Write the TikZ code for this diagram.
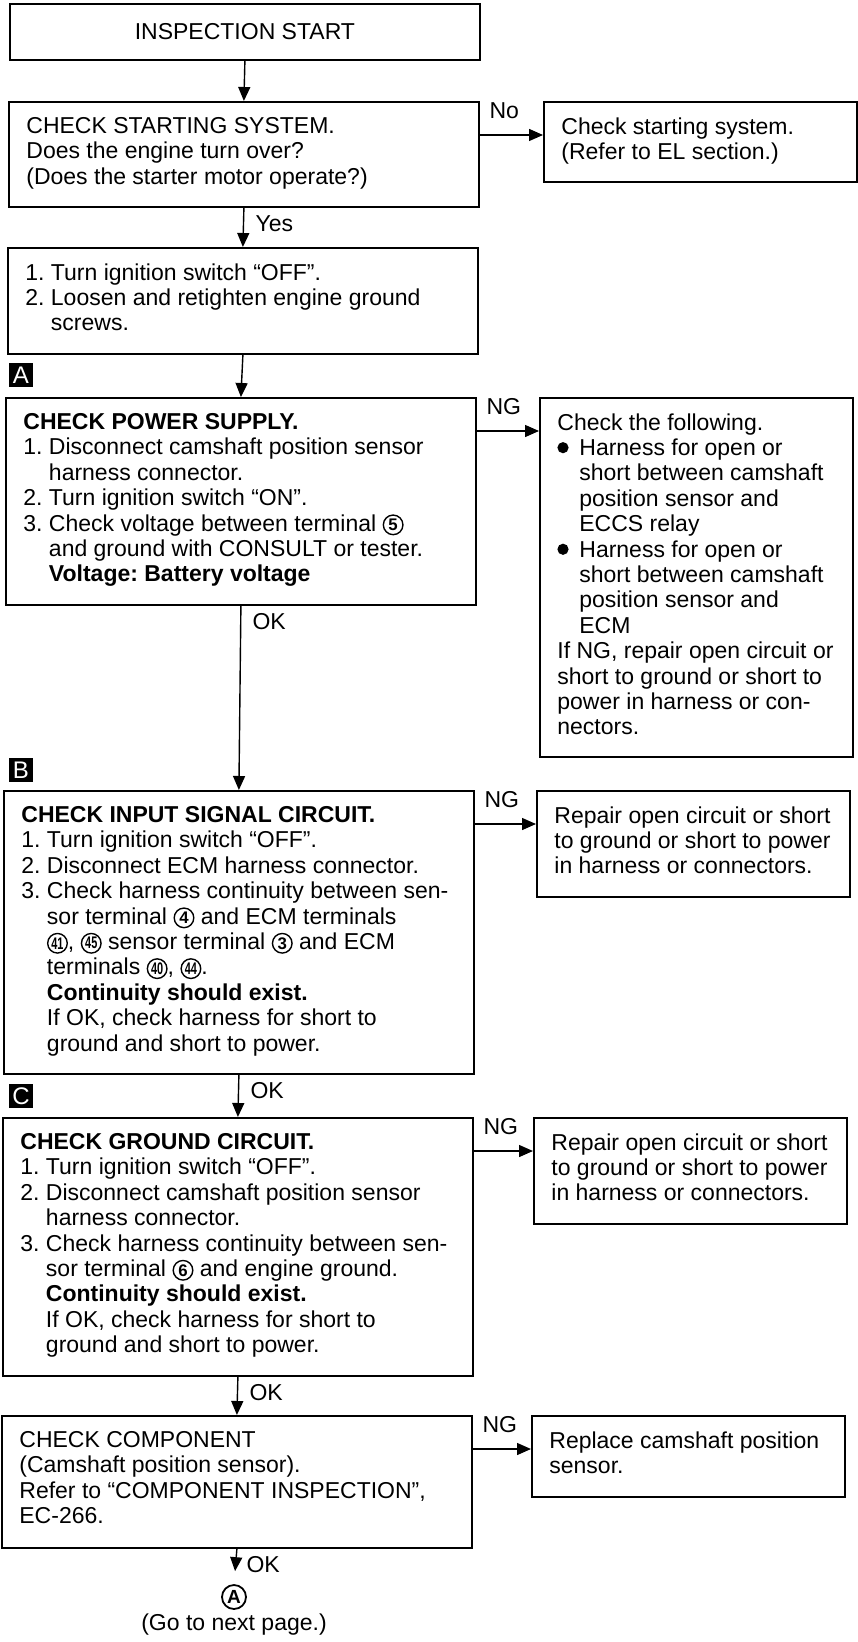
\documentclass[tikz,border=0pt]{standalone}
\usepackage{fontspec}
\setmainfont{Liberation Sans}
\usepackage{graphicx}
\usetikzlibrary{arrows.meta,positioning}
\frenchspacing

\newcommand\fs{\fontsize{11.5}{12.7}\selectfont}
\newcommand\ind{\hphantom{1. }}
\newcommand\cn[1]{\tikz[baseline=0pt,x=1pt,y=1pt]{\draw[line width=0.7pt] (4.9,3.1) circle[radius=4.9];
  \node[anchor=center,inner sep=0pt,xshift=0pt,yshift=0pt,font=\bfseries\fontsize{8.4}{8.4}\selectfont] (cnum) at (4.9,3.1) {#1};}}
\newcommand\cnn[1]{\cn{\scalebox{0.65}[1]{#1}}}
\newcommand\blt{\makebox[11pt][l]{\tikz[baseline=0pt,x=1pt,y=1pt]\fill (2.8,3.9) circle[radius=2.8];}}

\begin{document}
\begin{tikzpicture}[x=0.5pt,y=-0.5pt,
  box/.style={draw,line width=0.9pt,anchor=north west,inner sep=0pt},
  mainbox/.style={box,minimum width=235pt},
  sidebox/.style={box,minimum width=156.5pt},
  txt/.style={anchor=north west,align=left,inner sep=0pt,xshift=9pt,yshift=-8pt,font=\fs},
  lbl/.style={inner sep=0pt,font=\fs},
  arr/.style={-{Triangle[length=7pt,width=6pt]},line width=0.7pt},
  tag/.style={fill=black,text=white,minimum size=12pt,inner sep=0pt,font=\fontsize{12}{12}\selectfont}]
  \useasboundingbox (0,0) rectangle (857,1642);

  % Start and starting system
  \node[mainbox,minimum height=28pt,font=\fs] (start) at (9,3) {INSPECTION START};
  \node[mainbox,minimum height=52.5pt] (chk) at (8,101) {};
  \node[txt] (chkt) at (chk.north west) {CHECK STARTING SYSTEM.\\Does the engine turn over?\\(Does the starter motor operate?)};
  \node[sidebox,minimum height=40pt] (nostart) at (543,101) {};
  \node[txt] (nostartt) at (nostart.north west) {Check starting system.\\(Refer to EL section.)};
  \node[mainbox,minimum height=53pt] (scr) at (7,247) {};
  \node[txt] (scrt) at (scr.north west) {1. Turn ignition switch “OFF”.\\2. Loosen and retighten engine ground\\\ind screws.};

  % A: power supply
  \node[mainbox,minimum height=103.5pt] (pwr) at (5,397) {};
  \node[txt] (pwrt) at (pwr.north west) {\textbf{CHECK POWER SUPPLY.}\\
    1. Disconnect camshaft position sensor\\\ind harness connector.\\
    2. Turn ignition switch “ON”.\\
    3. Check voltage between terminal \cn{5}\\\ind and ground with CONSULT or tester.\\
    \ind\textbf{Voltage: Battery voltage}};
  \node[sidebox,minimum height=179.5pt] (ngpwr) at (539,397) {};
  \node[txt] (ngpwrt) at (ngpwr.north west) {Check the following.\\
    \blt Harness for open or\\\hspace*{11pt}short between camshaft\\\hspace*{11pt}position sensor and\\\hspace*{11pt}ECCS relay\\
    \blt Harness for open or\\\hspace*{11pt}short between camshaft\\\hspace*{11pt}position sensor and\\\hspace*{11pt}ECM\\
    If NG, repair open circuit or\\short to ground or short to\\power in harness or con-\\nectors.};

  % B: input signal circuit
  \node[mainbox,minimum height=141.5pt] (inp) at (3,790) {};
  \node[txt] (inpt) at (inp.north west) {\textbf{CHECK INPUT SIGNAL CIRCUIT.}\\
    1. Turn ignition switch “OFF”.\\
    2. Disconnect ECM harness connector.\\
    3. Check harness continuity between sen-\\
    \ind sor terminal \cn{4} and ECM terminals\\
    \ind\cnn{41}, \cnn{45} sensor terminal \cn{3} and ECM\\
    \ind terminals \cnn{40}, \cnn{44}.\\
    \ind\textbf{Continuity should exist.}\\
    \ind If OK, check harness for short to\\
    \ind ground and short to power.};
  \node[sidebox,minimum height=53pt] (nginp) at (536,790) {};
  \node[txt] (nginpt) at (nginp.north west) {Repair open circuit or short\\to ground or short to power\\in harness or connectors.};

  % C: ground circuit
  \node[mainbox,minimum height=129pt] (gnd) at (2,1117) {};
  \node[txt] (gndt) at (gnd.north west) {\textbf{CHECK GROUND CIRCUIT.}\\
    1. Turn ignition switch “OFF”.\\
    2. Disconnect camshaft position sensor\\\ind harness connector.\\
    3. Check harness continuity between sen-\\
    \ind sor terminal \cn{6} and engine ground.\\
    \ind\textbf{Continuity should exist.}\\
    \ind If OK, check harness for short to\\
    \ind ground and short to power.};
  \node[sidebox,minimum height=53pt] (nggnd) at (533,1117) {};
  \node[txt] (nggndt) at (nggnd.north west) {Repair open circuit or short\\to ground or short to power\\in harness or connectors.};

  % Component
  \node[mainbox,minimum height=66pt] (cmp) at (1,1415) {};
  \node[txt] (cmpt) at (cmp.north west) {CHECK COMPONENT\\(Camshaft position sensor).\\Refer to “COMPONENT INSPECTION”,\\EC-266.};
  \node[sidebox,minimum height=40.5pt] (ngcmp) at (531,1415) {};
  \node[txt] (ngcmpt) at (ngcmp.north west) {Replace camshaft position\\sensor.};

  \node[draw,circle,line width=0.9pt,minimum size=12pt,inner sep=0pt,font=\bfseries\fontsize{9.5}{9.5}\selectfont] (goA) at (234,1597) {A};
  \node[lbl] (nextpg) at (234,1625) {(Go to next page.)};

  % Section tags
  \foreach \n/\y in {A/375,B/770,C/1096}
    \node[tag] (tag\n) at (21,\y) {\n};

  % Downward flow
  \draw[arr] (start.south) -- (chk.north);
  \draw[arr] (chk.south) node[lbl,anchor=west,xshift=5.5pt,yshift=-8pt] (yes) {Yes} -- (scr.north);
  \draw[arr] (scr.south) -- (pwr.north);
  \draw[arr] (pwr.south) node[lbl,anchor=west,xshift=5.5pt,yshift=-8pt] (okA) {OK} -- (inp.north);
  \draw[arr] (inp.south) node[lbl,anchor=west,xshift=5.5pt,yshift=-8pt] (okB) {OK} -- (gnd.north);
  \draw[arr] (gnd.south) node[lbl,anchor=west,xshift=5.5pt,yshift=-8pt] (okC) {OK} -- (cmp.north);
  \draw[arr,shorten >=6.5pt] (cmp.south) node[lbl,anchor=west,xshift=4.5pt,yshift=-8pt] (okD) {OK} -- (goA.north);

  % Side branches
  \foreach \a/\b/\t in {chk/nostart/No,pwr/ngpwr/NG,inp/nginp/NG,gnd/nggnd/NG,cmp/ngcmp/NG}{
    \coordinate (o\a) at ([yshift=-17pt]\a.north east);
    \draw[arr] (o\a) node[lbl,anchor=south west,xshift=4.5pt,yshift=8pt] (l\a) {\t} -- (o\a -| \b.west);
  }
\end{tikzpicture}
\end{document}
